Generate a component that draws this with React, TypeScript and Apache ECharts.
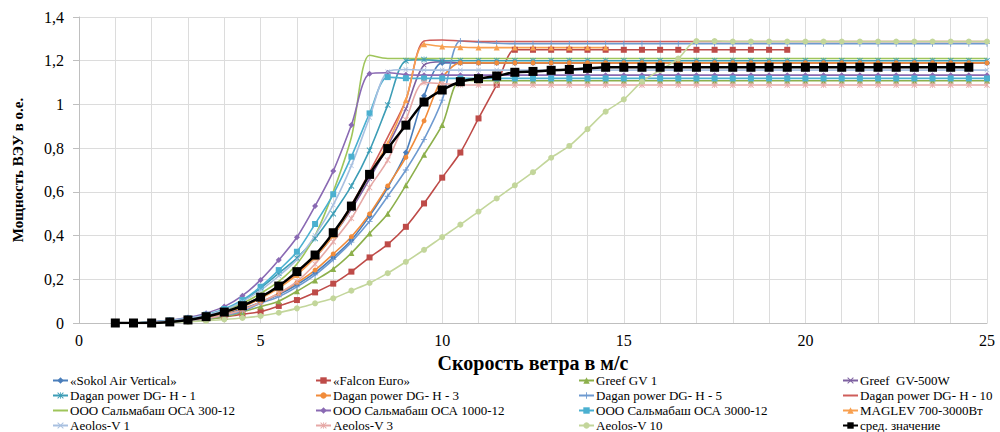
import React, { useEffect, useRef } from "react";
import * as echarts from "echarts";

const WIND = [1, 1.5, 2, 2.5, 3, 3.5, 4, 4.5, 5, 5.5, 6, 6.5, 7, 7.5, 8, 8.5, 9, 9.5, 10, 10.5, 11, 11.5, 12, 12.5, 13, 13.5, 14, 14.5, 15, 15.5, 16, 16.5, 17, 17.5, 18, 18.5, 19, 19.5, 20, 20.5, 21, 21.5, 22, 22.5, 23, 23.5, 24, 24.5, 25];

const SOKOL = [0, 0, 0.003, 0.008, 0.015, 0.027, 0.043, 0.065, 0.095, 0.13,
  0.175, 0.23, 0.3, 0.38, 0.49, 0.62, 0.78, 1.04, 1.19, 1.19,
  1.19, 1.19, 1.19, 1.19, 1.19, 1.19, 1.19, 1.19, 1.19, 1.19,
  1.19, 1.19, 1.19, 1.19, 1.19, 1.19, 1.19, 1.19, 1.19, 1.19,
  1.19, 1.19, 1.19, 1.19, 1.19, 1.19, 1.19, 1.19, 1.19];
const FALCON = [0, 0, 0.002, 0.005, 0.01, 0.018, 0.028, 0.04, 0.052, 0.078,
  0.105, 0.14, 0.18, 0.235, 0.3, 0.36, 0.44, 0.547, 0.665, 0.78,
  0.936, 1.09, 1.25, 1.25, 1.25, 1.25, 1.25, 1.25, 1.25, 1.25,
  1.25, 1.25, 1.25, 1.25, 1.25, 1.25, 1.25, 1.25, null, null,
  null, null, null, null, null, null, null, null, null];
const GREEF1 = [0, 0, 0.002, 0.005, 0.01, 0.017, 0.028, 0.05, 0.075, 0.1,
  0.145, 0.195, 0.247, 0.32, 0.41, 0.5, 0.63, 0.77, 0.906, 1.11,
  1.108, 1.108, 1.108, 1.108, 1.108, 1.108, 1.108, 1.108, 1.108, 1.108,
  1.108, 1.108, 1.108, 1.108, 1.108, 1.108, 1.108, 1.108, 1.108, 1.108,
  1.108, 1.108, 1.108, 1.108, 1.108, 1.108, 1.108, 1.108, 1.108];
const GREEF500 = [0, 0, 0.003, 0.008, 0.016, 0.03, 0.05, 0.08, 0.12, 0.165,
  0.225, 0.3, 0.4, 0.52, 0.66, 0.81, 0.98, 1.18, 1.195, 1.19,
  1.19, 1.19, 1.19, 1.19, 1.19, 1.19, 1.19, 1.19, 1.19, 1.19,
  1.19, 1.19, 1.19, 1.19, 1.19, 1.19, 1.19, 1.19, 1.19, 1.19,
  1.19, 1.19, 1.19, 1.19, 1.19, 1.19, 1.19, 1.19, 1.19];
const DGH1 = [0, 0, 0.004, 0.01, 0.02, 0.035, 0.06, 0.1, 0.16, 0.228,
  0.297, 0.387, 0.5, 0.627, 0.79, 0.997, 1.2, 1.205, 1.2, 1.2,
  1.2, 1.2, 1.2, 1.2, 1.2, 1.2, 1.2, 1.2, 1.2, 1.2,
  1.2, 1.2, 1.2, 1.2, 1.2, 1.2, 1.2, 1.2, 1.2, 1.2,
  1.2, 1.2, 1.2, 1.2, 1.2, 1.2, 1.2, 1.2, 1.2];
const DGH3 = [0, 0, 0.002, 0.006, 0.012, 0.022, 0.037, 0.06, 0.095, 0.135,
  0.184, 0.242, 0.316, 0.395, 0.499, 0.627, 0.758, 0.925, 1.12, 1.19,
  1.19, 1.19, 1.19, 1.19, 1.19, 1.19, 1.19, 1.19, 1.19, 1.19,
  1.19, 1.19, 1.19, 1.19, 1.19, 1.19, 1.19, 1.19, 1.19, 1.19,
  1.19, 1.19, 1.19, 1.19, 1.19, 1.19, 1.19, 1.19, 1.19];
const DGH5 = [0, 0, 0.002, 0.005, 0.011, 0.02, 0.034, 0.054, 0.09, 0.12,
  0.165, 0.22, 0.29, 0.37, 0.465, 0.58, 0.7, 0.84, 1.02, 1.29,
  1.285, 1.28, 1.278, 1.278, 1.278, 1.278, 1.278, 1.278, 1.278, 1.278,
  1.278, 1.278, 1.278, 1.278, 1.278, 1.278, 1.278, 1.278, 1.278, 1.278,
  1.278, 1.278, 1.278, 1.278, 1.278, 1.278, 1.278, 1.278, 1.278];
const DGH10 = [0, 0, 0.003, 0.008, 0.015, 0.028, 0.047, 0.075, 0.115, 0.165,
  0.225, 0.305, 0.41, 0.54, 0.69, 0.85, 1.02, 1.29, 1.295, 1.29,
  1.288, 1.288, 1.288, 1.288, 1.288, 1.288, 1.288, 1.288, 1.288, 1.288,
  1.288, 1.288, 1.288, 1.288, 1.288, 1.288, 1.288, 1.288, 1.288, 1.288,
  1.288, 1.288, 1.288, 1.288, 1.288, 1.288, 1.288, 1.288, 1.288];
const OSA300 = [0, 0, 0.004, 0.01, 0.02, 0.035, 0.058, 0.09, 0.135, 0.19,
  0.27, 0.4, 0.6, 0.85, 1.225, 1.21, 1.21, 1.21, 1.21, 1.21,
  1.21, 1.21, 1.21, 1.21, 1.21, 1.21, 1.21, 1.21, 1.21, 1.21,
  1.21, 1.21, 1.21, 1.21, 1.21, 1.21, 1.21, 1.21, 1.21, 1.21,
  1.21, 1.21, 1.21, 1.21, 1.21, 1.21, 1.21, 1.21, 1.21];
const OSA1000 = [0, 0, 0.005, 0.013, 0.025, 0.045, 0.075, 0.125, 0.197, 0.288,
  0.392, 0.535, 0.695, 0.906, 1.14, 1.145, 1.136, 1.134, 1.134, 1.134,
  1.134, 1.134, 1.134, 1.134, 1.134, 1.134, 1.134, 1.134, 1.134, 1.134,
  1.134, 1.134, 1.134, 1.134, 1.134, 1.134, 1.134, 1.134, 1.134, 1.134,
  1.134, 1.134, 1.134, 1.134, 1.134, 1.134, 1.134, 1.134, 1.134];
const OSA3000 = [0, 0, 0.004, 0.011, 0.021, 0.038, 0.064, 0.105, 0.166, 0.242,
  0.326, 0.453, 0.589, 0.761, 0.959, 1.125, 1.12, 1.119, 1.119, 1.119,
  1.119, 1.119, 1.119, 1.119, 1.119, 1.119, 1.119, 1.119, 1.119, 1.119,
  1.119, 1.119, 1.119, 1.119, 1.119, 1.119, 1.119, 1.119, 1.119, 1.119,
  1.119, 1.119, 1.119, 1.119, 1.119, 1.119, 1.119, 1.119, 1.119];
const MAGLEV = [0, 0, 0.003, 0.008, 0.015, 0.027, 0.045, 0.073, 0.112, 0.16,
  0.22, 0.3, 0.4, 0.53, 0.68, 0.822, 1.02, 1.275, 1.265, 1.262,
  1.26, 1.26, 1.26, 1.26, 1.26, 1.26, 1.26, 1.26, null, null,
  null, null, null, null, null, null, null, null, null, null,
  null, null, null, null, null, null, null, null, null];
const AEOLOS1 = [0, 0, 0.004, 0.01, 0.02, 0.036, 0.06, 0.098, 0.15, 0.215,
  0.29, 0.4, 0.54, 0.72, 0.94, 1.15, 1.16, 1.157, 1.157, 1.157,
  1.157, 1.157, 1.157, 1.157, 1.157, 1.157, 1.157, 1.157, 1.157, 1.157,
  1.157, 1.157, 1.157, 1.157, 1.157, 1.157, 1.157, 1.157, 1.157, 1.157,
  1.157, 1.157, 1.157, 1.157, 1.157, 1.157, 1.157, 1.157, 1.157];
const AEOLOS3 = [0, 0, 0.002, 0.006, 0.012, 0.022, 0.037, 0.06, 0.095, 0.135,
  0.19, 0.27, 0.372, 0.479, 0.62, 0.745, 0.93, 1.1, 1.095, 1.09,
  1.089, 1.089, 1.089, 1.089, 1.089, 1.089, 1.089, 1.089, 1.089, 1.089,
  1.089, 1.089, 1.089, 1.089, 1.089, 1.089, 1.089, 1.089, 1.089, 1.089,
  1.089, 1.089, 1.089, 1.089, 1.089, 1.089, 1.089, 1.089, 1.089];
const AEOLOS10 = [0, 0, 0.001, 0.003, 0.006, 0.01, 0.016, 0.023, 0.032, 0.047,
  0.067, 0.09, 0.113, 0.148, 0.183, 0.228, 0.28, 0.335, 0.393, 0.45,
  0.51, 0.57, 0.63, 0.69, 0.756, 0.81, 0.887, 0.967, 1.023, 1.104,
  1.157, 1.21, 1.29, 1.29, 1.288, 1.288, 1.288, 1.288, 1.288, 1.288,
  1.288, 1.288, 1.288, 1.288, 1.288, 1.288, 1.288, 1.288, 1.288];
const AVERAGE = [0, 0, 0, 0.005, 0.014, 0.029, 0.05, 0.079, 0.118, 0.169,
  0.235, 0.311, 0.413, 0.535, 0.68, 0.798, 0.905, 1.011, 1.066, 1.104,
  1.118, 1.13, 1.147, 1.151, 1.156, 1.16, 1.165, 1.17, 1.17, 1.17,
  1.17, 1.17, 1.17, 1.17, 1.17, 1.17, 1.17, 1.17, 1.17, 1.17,
  1.17, 1.17, 1.17, 1.17, 1.17, 1.17, 1.17, 1.17, null];

const Y_TICKS = [0, 0.2, 0.4, 0.6, 0.8, 1, 1.2, 1.4];

const X_SYM = "path://M1,0L5,4L9,0L10,1L6,5L10,9L9,10L5,6L1,10L0,9L4,5L0,1Z";
const STAR_SYM = "path://M1,0L4.4,3.4V0H5.6V3.4L9,0L10,1L6,5L10,9L9,10L5.6,6.6V10H4.4V6.6L1,10L0,9L4,5L0,1Z";
const PLUS_SYM = "path://M4.3,0H5.7V4.3H10V5.7H5.7V10H4.3V5.7H0V4.3H4.3Z";

const FONT = "Liberation Serif";

type Def = { name: string; ys: (number | null)[]; color: string; symbol: string; size: number | number[]; width?: number };

const DEFS: Def[] = [
  { name: "«Sokol Air Vertical»", ys: SOKOL, color: "#4A7EBB", symbol: "diamond", size: 6 },
  { name: "«Falcon Euro»", ys: FALCON, color: "#BE4B48", symbol: "rect", size: 6 },
  { name: "Greef GV 1", ys: GREEF1, color: "#8DB04C", symbol: "triangle", size: 6 },
  { name: "Greef  GV-500W", ys: GREEF500, color: "#7D60A0", symbol: X_SYM, size: 5 },
  { name: "Dagan power DG- H - 1", ys: DGH1, color: "#3C9DB6", symbol: STAR_SYM, size: 6 },
  { name: "Dagan power DG- H - 3", ys: DGH3, color: "#F18B3A", symbol: "circle", size: 5 },
  { name: "Dagan power DG- H - 5", ys: DGH5, color: "#6E9AD0", symbol: PLUS_SYM, size: 6 },
  { name: "Dagan power DG- H - 10", ys: DGH10, color: "#CF5D5A", symbol: "none", size: 0 },
  { name: "ООО Сальмабаш ОСА 300-12", ys: OSA300, color: "#9FC55A", symbol: "none", size: 0 },
  { name: "ООО Сальмабаш ОСА 1000-12", ys: OSA1000, color: "#8A6AB3", symbol: "diamond", size: 6 },
  { name: "ООО Сальмабаш ОСА 3000-12", ys: OSA3000, color: "#4BB0D0", symbol: "rect", size: 6 },
  { name: "MAGLEV 700-3000Вт", ys: MAGLEV, color: "#F8A050", symbol: "triangle", size: 6 },
  { name: "Aeolos-V 1", ys: AEOLOS1, color: "#A8C0E0", symbol: X_SYM, size: 5 },
  { name: "Aeolos-V 3", ys: AEOLOS3, color: "#E6A8A6", symbol: STAR_SYM, size: 6 },
  { name: "Aeolos-V 10", ys: AEOLOS10, color: "#C3D69B", symbol: "circle", size: 6 },
  { name: "сред. значение", ys: AVERAGE, color: "#000000", symbol: "rect", size: 9, width: 2.5 },
];

const LEGEND_COLS = [
  [0, 4, 8, 12],
  [1, 5, 9, 13],
  [2, 6, 10, 14],
  [3, 7, 11, 15],
];
const LEGEND_LEFT = [52, 315, 578, 842];

export default function App() {
  const ref = useRef<HTMLDivElement>(null);
  useEffect(() => {
    const chart = echarts.init(ref.current!, null, { renderer: "svg" });
    const series = DEFS.map((d) => {
      const plain = d.symbol === "none";
      return {
        name: d.name,
        type: "line",
        data: WIND.map((x, i) => [x, d.ys[i]]),
        smooth: 0.3,
        symbol: plain ? "circle" : d.symbol,
        symbolSize: plain ? 1 : d.size,
        showSymbol: !plain,
        connectNulls: false,
        lineStyle: { color: d.color, width: d.width ?? 1.6 },
        itemStyle: { color: d.color, opacity: plain ? 0 : 1 },
        emphasis: { disabled: true },
      };
    });
    chart.setOption({
      animation: false,
      backgroundColor: "#ffffff",
      textStyle: { fontFamily: FONT },
      grid: { left: 79, right: 13, top: 17, bottom: 109 },
      xAxis: {
        type: "value",
        min: 0,
        max: 25,
        interval: 5,
        name: "Скорость ветра в м/с",
        nameLocation: "middle",
        nameGap: 25,
        nameTextStyle: { fontFamily: FONT, fontSize: 20, fontWeight: "bold", color: "#000" },
        axisLine: { show: true, lineStyle: { color: "#BFBFBF" } },
        axisTick: { show: false },
        minorTick: { show: false, splitNumber: 5 },
        minorSplitLine: { show: true, lineStyle: { color: "#DCDCDC", width: 1 } },
        splitLine: { show: true, lineStyle: { color: "#DCDCDC", width: 1 } },
        axisLabel: { fontFamily: FONT, fontSize: 16, color: "#000", margin: 9 },
      },
      yAxis: {
        type: "value",
        min: 0,
        max: 1.4,
        interval: 0.2,
        name: "Мощность ВЭУ в о.е.",
        nameLocation: "middle",
        nameRotate: 90,
        nameGap: 54,
        nameTextStyle: { fontFamily: FONT, fontSize: 15, fontWeight: "bold", color: "#000" },
        axisLine: { show: true, lineStyle: { color: "#BFBFBF" } },
        axisTick: { show: true, length: 6, lineStyle: { color: "#BFBFBF" } },
        splitLine: { show: true, lineStyle: { color: "#DCDCDC", width: 1 } },
        axisLabel: {
          fontFamily: FONT,
          fontSize: 16,
          color: "#000",
          margin: 15,
          formatter: (v: number) => {
            const t = Y_TICKS.find((k) => Math.abs(k - v) < 1e-6);
            return String(t ?? v).replace(".", ",");
          },
        },
      },
      legend: LEGEND_COLS.map((col, c) => ({
        data: col.map((i) => DEFS[i].name),
        orient: "vertical",
        left: LEGEND_LEFT[c],
        top: 373,
        height: 80,
        padding: 0,
        itemGap: 0,
        itemWidth: 15,
        itemHeight: 8,
        selectedMode: false,
        textStyle: { fontFamily: FONT, fontSize: 13, color: "#000", lineHeight: 15, padding: [0, 0, 0, -3] },
      })),
      series,
    });
    return () => chart.dispose();
  }, []);
  return <div ref={ref} style={{ position: "fixed", left: 0, top: 0, width: 1000, height: 432 }} />;
}
